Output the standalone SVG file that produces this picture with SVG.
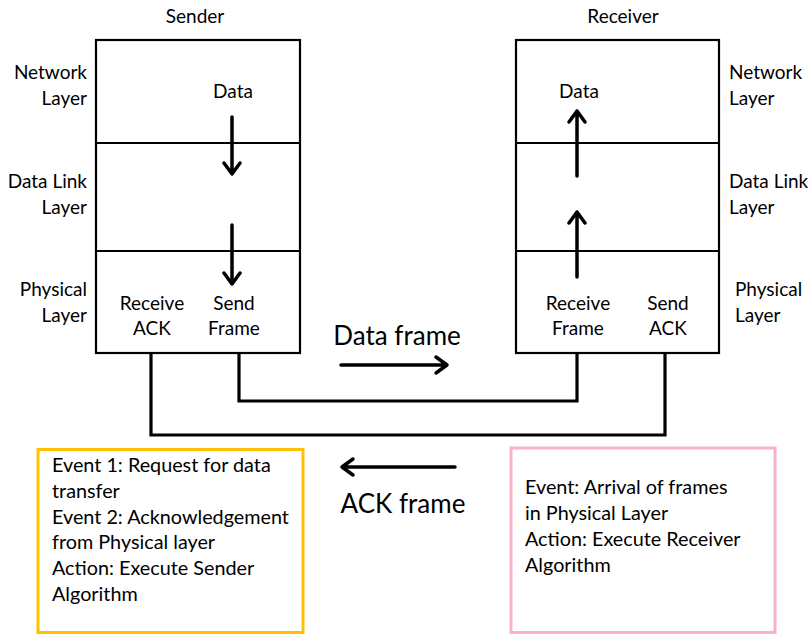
<svg xmlns="http://www.w3.org/2000/svg" width="809" height="634" viewBox="0 0 809 634">
<style>
text { font-family: Lato, "Open Sans", "Liberation Sans", sans-serif; font-size: 19px; fill: #000; }
.c { text-anchor: middle; }
.r { text-anchor: end; }
.big { font-size: 26px; }
.ev { font-size: 19.8px; }
.box { fill: #fff; stroke: #000; stroke-width: 2.2; }
.div { stroke: #000; stroke-width: 2; }
.arr { fill: none; stroke: #000; stroke-width: 3.5; stroke-linecap: round; stroke-linejoin: round; }
.wire { fill: none; stroke: #000; stroke-width: 3.2; }
</style>
<rect width="809" height="634" fill="#fff"/>

<g id="sender">
  <text class="c" x="195" y="23">Sender</text>
  <rect class="box" x="96" y="40" width="204" height="313"/>
  <line class="div" x1="96" y1="143" x2="300" y2="143"/>
  <line class="div" x1="96" y1="251" x2="300" y2="251"/>
  <text class="r" x="87" y="79">Network</text>
  <text class="r" x="87" y="105">Layer</text>
  <text class="r" x="87" y="188">Data Link</text>
  <text class="r" x="87" y="214">Layer</text>
  <text class="r" x="87" y="296">Physical</text>
  <text class="r" x="87" y="322">Layer</text>
  <text class="c" x="233" y="98">Data</text>
  <text class="c" x="152" y="310">Receive</text>
  <text class="c" x="152" y="335">ACK</text>
  <text class="c" x="234" y="310">Send</text>
  <text class="c" x="234" y="335">Frame</text>
  <path class="arr" d="M232 117 V174 M224 163 L232 174 L240 163"/>
  <path class="arr" d="M232 225 V284 M224 273 L232 284 L240 273"/>
</g>

<g id="receiver">
  <text class="c" x="623" y="23">Receiver</text>
  <rect class="box" x="516" y="40" width="203" height="313"/>
  <line class="div" x1="516" y1="143" x2="719" y2="143"/>
  <line class="div" x1="516" y1="251" x2="719" y2="251"/>
  <text x="729" y="79">Network</text>
  <text x="729" y="105">Layer</text>
  <text x="729" y="188">Data Link</text>
  <text x="729" y="214">Layer</text>
  <text x="735" y="296">Physical</text>
  <text x="735" y="322">Layer</text>
  <text class="c" x="579" y="98">Data</text>
  <text class="c" x="578" y="310">Receive</text>
  <text class="c" x="578" y="335">Frame</text>
  <text class="c" x="668" y="310">Send</text>
  <text class="c" x="668" y="335">ACK</text>
  <path class="arr" d="M577 176 V111 M569 122 L577 111 L585 122"/>
  <path class="arr" d="M577 277 V212 M569 223 L577 212 L585 223"/>
</g>

<g id="connectors">
  <polyline class="wire" points="239,353 239,401 577,401 577,353"/>
  <polyline class="wire" points="151,353 151,435 665,435 665,353"/>
  <path class="arr" d="M341 365 H447 M436 357 L447 365 L436 373"/>
  <path class="arr" d="M455 467 H342 M353 459 L342 467 L353 475"/>
</g>

<g id="data-frame-label">
  <text class="c big" x="397" y="345">Data frame</text>
</g>
<g id="ack-frame-label">
  <text class="c big" x="403" y="513">ACK frame</text>
</g>

<g id="sender-events">
  <rect x="38" y="449.5" width="265" height="183" fill="#fff" stroke="#FFC000" stroke-width="3"/>
  <text class="ev" x="52" y="472">Event 1: Request for data</text>
  <text class="ev" x="52" y="498">transfer</text>
  <text class="ev" x="52" y="524">Event 2: Acknowledgement</text>
  <text class="ev" x="52" y="549">from Physical layer</text>
  <text class="ev" x="52" y="575">Action: Execute Sender</text>
  <text class="ev" x="52" y="601">Algorithm</text>
</g>

<g id="receiver-events">
  <rect x="511" y="448" width="264" height="184.5" fill="#fff" stroke="#FBB1CB" stroke-width="3"/>
  <text class="ev" x="525" y="494">Event: Arrival of frames</text>
  <text class="ev" x="525" y="520">in Physical Layer</text>
  <text class="ev" x="525" y="546">Action: Execute Receiver</text>
  <text class="ev" x="525" y="572">Algorithm</text>
</g>
</svg>
